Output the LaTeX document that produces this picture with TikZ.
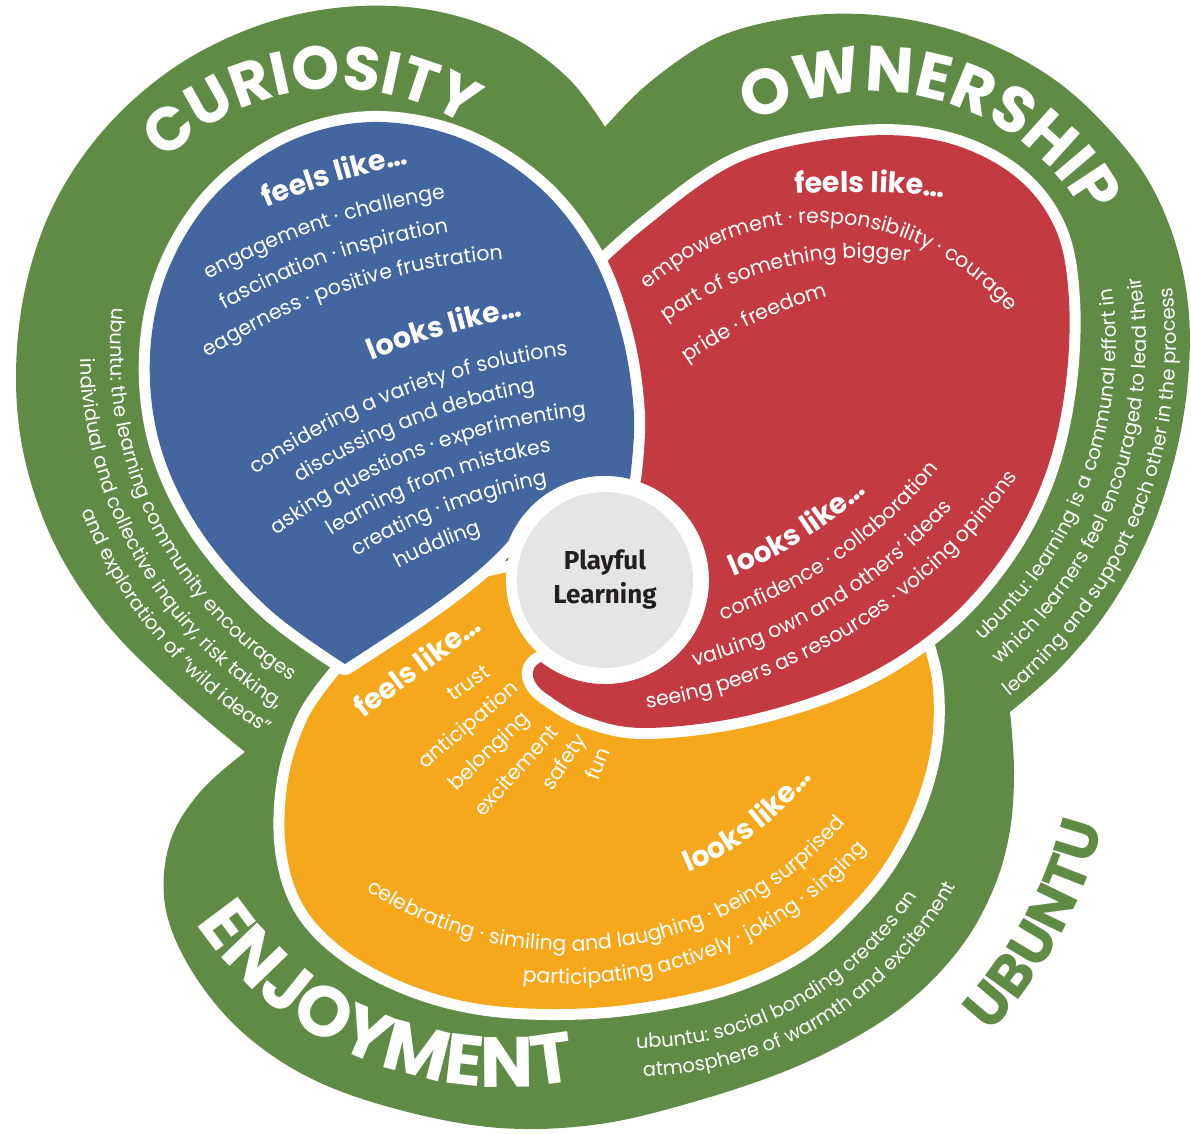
\documentclass[tikz,border=0pt]{standalone}
\usepackage{fontspec}
\setmainfont{Poppins}
\newfontfamily\circfont{Fira Sans}
\usetikzlibrary{decorations.text}
\definecolor{ubgreen}{HTML}{608B45}
\definecolor{curblue}{HTML}{44669E}
\definecolor{ownred}{HTML}{C33A43}
\definecolor{enjorange}{HTML}{F6A81C}
\definecolor{centregray}{HTML}{E5E5E5}
\definecolor{darktext}{HTML}{231F20}
\newcommand\smallfnt{\fontsize{20.5}{24}\selectfont\color{white}}
\newcommand\ubfnt{\fontsize{19.5}{23}\selectfont\color{white}}
\newcommand\headfnt{\fontsize{28.5}{33}\selectfont\bfseries\color{white}}
\newcommand\titlefnt[1]{\fontsize{#1}{#1}\selectfont\bfseries\color{white}}
\newcommand\ubtitlefnt{\fontsize{58}{62}\selectfont\bfseries\color{ubgreen}}
\newcommand\arctext[6]{\path[shift={(#1)}, decorate, decoration={text along path, text align=center, text={|#5|#6}}]
  ({#3-(#4)}:#2) arc[start angle={#3-(#4)}, end angle={#3+(#4)}, radius=#2];}
\tikzset{
  blob/.style={fill=#1, preaction={draw=white, line width=22pt, line join=round}},
  fan/.style={font=\fontsize{20.5}{24}\selectfont, text=white, inner sep=0pt, anchor=base west},
  fanhead/.style={font=\fontsize{28.5}{33}\selectfont\bfseries, text=white, inner sep=0pt, anchor=base west}
}
\begin{document}
\begin{tikzpicture}[x=1pt, y=-1pt]
\useasboundingbox (0,0) rectangle (1191,1134);
\fill[white] (0,0) rectangle (1191,1134);
\fill[ubgreen] plot[smooth, tension=0.6] coordinates {(605,127) (650,82) (716,38) (790,18) (860,14) (930,24) (995,46) (1055,80) (1105,125) (1148,180) (1176,245) (1189,315) (1187,390) (1173,465) (1147,540) (1108,610) (1060,668) (1010,712)}
  -- plot[smooth, tension=0.6] coordinates {(1010,712) (1014,770) (1010,830) (995,885) (966,940) (922,990) (868,1030) (793,1068) (700,1100) (600,1124) (500,1128) (400,1110) (310,1078) (240,1030) (190,968) (165,905) (170,842) (200,792) (245,752)}
  -- plot[smooth, tension=0.6] coordinates {(245,752) (172,690) (105,622) (55,545) (25,460) (16,375) (26,285) (56,200) (108,125) (178,65) (260,25) (345,7) (430,10) (508,35) (568,78) (605,127)} -- cycle;
\path[blob=enjorange] plot[smooth, tension=0.6] coordinates {(340,673) (308,718) (288,780) (286,850) (305,908) (348,952) (410,985) (480,1004) (560,1009) (640,1003) (727,984) (800,950) (853,903) (889,857) (917,800) (932,740) (932,680) (918,628)} -- (560,560) -- (420,592) -- (352,652) -- cycle;
\path[blob=ownred] plot[smooth, tension=0.6] coordinates {(570,297) (645,228) (740,162) (850,137) (940,141) (1012,174) (1055,228) (1069,300) (1065,390) (1045,475) (1006,552) (945,622) (860,678) (750,715) (645,728) (585,716) (550,696)} .. controls (530,684) and (528,668) .. (541,662) arc[start angle=128, end angle=-80, radius=104] -- (600,400) -- cycle;
\path[blob=curblue] plot[smooth, tension=0.6] coordinates {(345,664) (268,608) (200,530) (160,445) (150,355) (168,270) (215,195) (288,142) (372,122) (460,138) (538,186) (592,255) (622,335) (634,415) (630,479)} arc[start angle=-76, end angle=-158, radius=104] .. controls (470,585) and (400,628) .. (345,664) -- cycle;
\fill[white] (605,580) circle[radius=99];
\node[circle, fill=centregray, minimum size=176pt, inner sep=0pt, align=center, text=darktext, font=\circfont\fontsize{26}{34}\selectfont\bfseries] (centre) at (605,580) {Playful\\Learning};

\arctext{337,330}{241}{263.5}{60}{\titlefnt{61}}{CURIOSITY}
\arctext{873,336}{244}{-74.2}{65}{\titlefnt{64}}{OWNERSHIP}
\arctext{504,716}{371}{112.5}{-50}{\titlefnt{71}}{ENJOYMENT}
\arctext{638,707}{480}{28.6}{-28}{\ubtitlefnt}{UBUNTU}

\arctext{554,902}{752}{-106.8}{12}{\headfnt}{feels like…}
\arctext{554,902}{712}{-108.9}{22}{\smallfnt}{engagement · challenge}
\arctext{554,902}{678}{-109}{22}{\smallfnt}{fascination · inspiration}
\arctext{554,902}{645}{-108.5}{24}{\smallfnt}{eagerness · positive frustration}
\arctext{654,1050}{745}{-106.2}{14}{\headfnt}{looks like…}
\arctext{654,1050}{700}{-110.9}{25}{\smallfnt}{considering a variety of solutions}
\arctext{654,1050}{669}{-111.1}{25}{\smallfnt}{discussing and debating}
\arctext{654,1050}{638}{-111.2}{27}{\smallfnt}{asking questions · experimenting}
\arctext{654,1050}{607}{-110.9}{27}{\smallfnt}{learning from mistakes}
\arctext{654,1050}{576}{-110.9}{27}{\smallfnt}{creating · imagining}
\arctext{654,1050}{545}{-113.2}{20}{\smallfnt}{huddling}

\arctext{850,1000}{808}{-88.6}{12}{\headfnt}{feels like…}
\arctext{818,473}{250}{-86.5}{62}{\smallfnt}{empowerment · responsibility · courage}
\arctext{862,588}{330}{-104}{35}{\smallfnt}{part of something bigger}
\arctext{952,739}{460}{-115.4}{20}{\smallfnt}{pride · freedom}
\arctext{563,162}{448}{57.5}{-20}{\headfnt}{looks like…}
\arctext{563,162}{485}{55}{-30}{\smallfnt}{confidence · collaboration}
\arctext{563,162}{521}{58.5}{-30}{\smallfnt}{valuing own and others’ ideas}
\arctext{563,162}{553}{58}{-35}{\smallfnt}{seeing peers as resources · voicing opinions}

\node[fanhead, rotate=37] (ofeels) at (363,719) {feels like…};
\node[fan, rotate=35] (trust) at (453,702) {trust};
\node[fan, rotate=40] (antic) at (425,770) {anticipation};
\node[fan, rotate=44] (belong) at (456,792) {belonging};
\node[fan, rotate=48] (excite) at (483,818) {excitement};
\node[fan, rotate=56] (safety) at (552,792) {safety};
\node[fan, rotate=68] (fun) at (598,782) {fun};
\arctext{568,587}{310}{52.5}{-28}{\headfnt}{looks like…}
\arctext{568,587}{364}{82}{-60}{\smallfnt}{celebrating · similing and laughing · being surprised}
\arctext{568,587}{397}{68.9}{-45}{\smallfnt}{participating actively · joking · singing}

\arctext{502,351}{392}{154.5}{-50}{\ubfnt}{ubuntu: the learning community encourages}
\arctext{502,351}{422}{150.5}{-50}{\ubfnt}{individual and collective inquiry, risk taking,}
\arctext{502,351}{450}{140.4}{-40}{\ubfnt}{and exploration of “wild ideas”}
\arctext{721,344}{395}{20.3}{-45}{\ubfnt}{ubuntu: learning is a communal effort in}
\arctext{721,344}{425}{20}{-45}{\ubfnt}{which learners feel encouraged to lead their}
\arctext{721,344}{455}{21.8}{-45}{\ubfnt}{learning and support each other in the process}
\arctext{639,717}{331}{61.6}{-50}{\ubfnt}{ubuntu: social bonding creates an}
\arctext{639,717}{359}{58.7}{-50}{\ubfnt}{atmosphere of warmth and excitement}
\end{tikzpicture}
\end{document}
